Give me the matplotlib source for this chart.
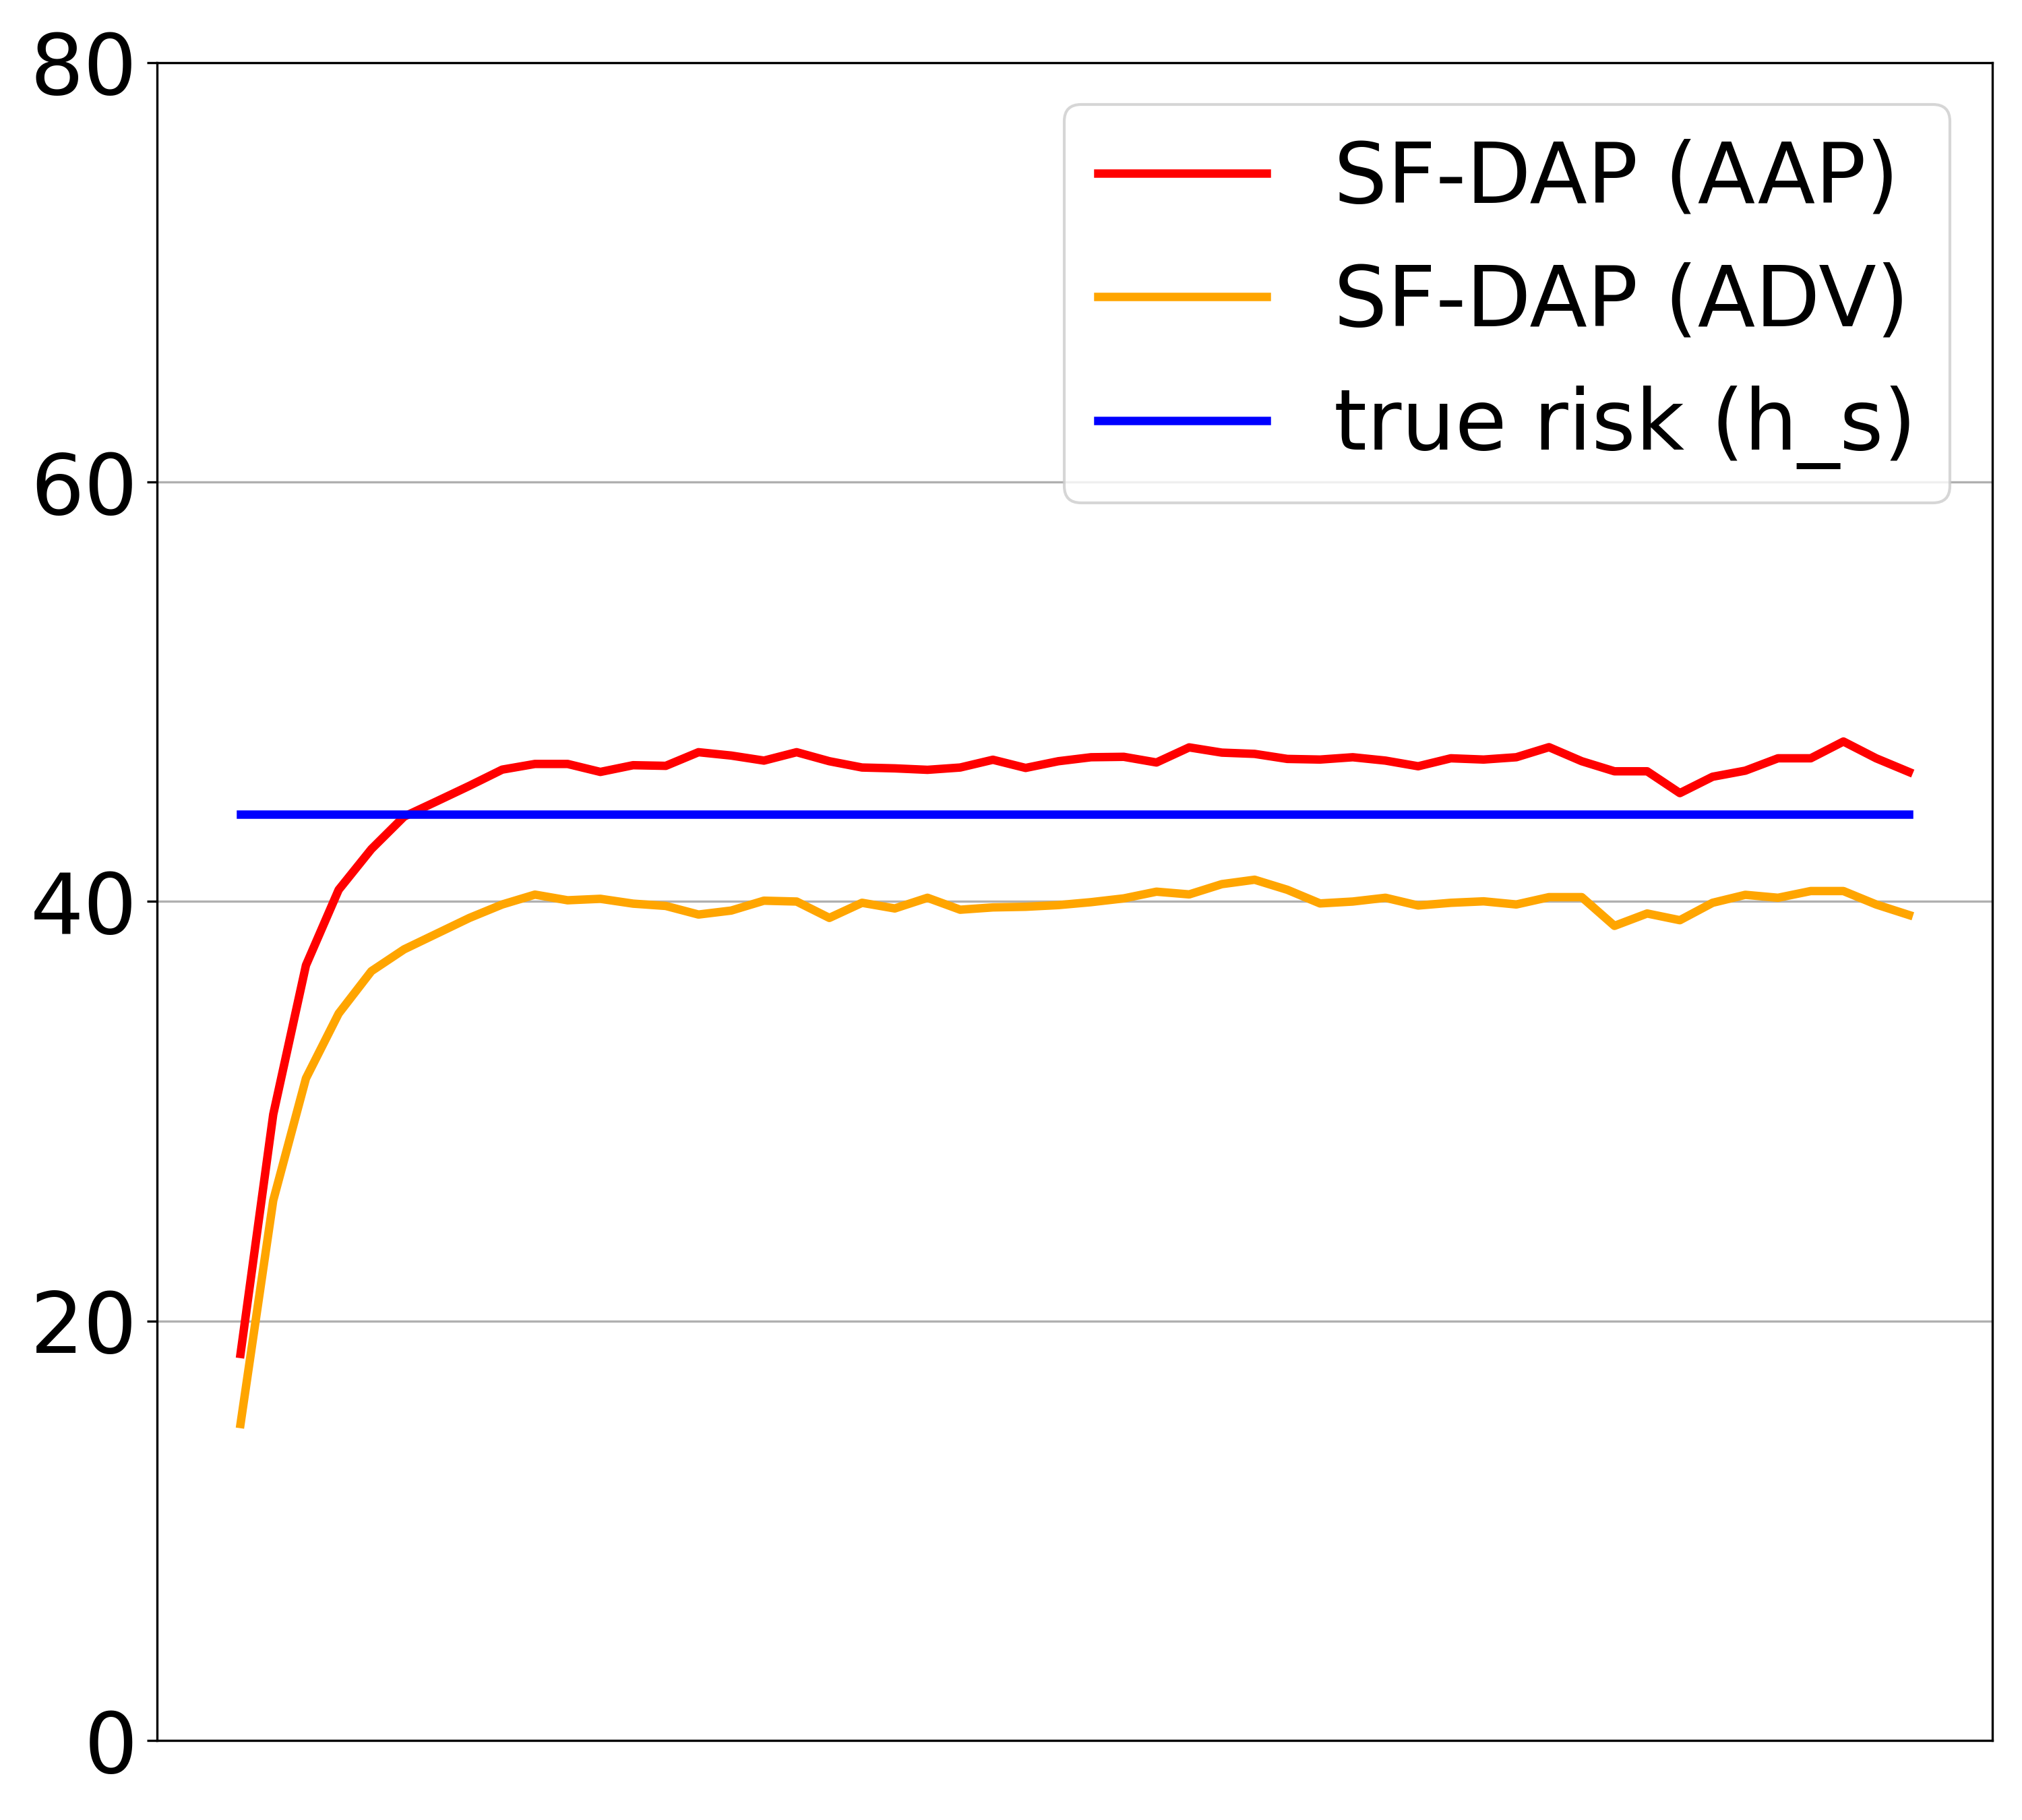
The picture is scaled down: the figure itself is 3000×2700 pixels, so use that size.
import numpy as np
import matplotlib
matplotlib.use("Agg")
import matplotlib.pyplot as plt

plt.rcParams['font.size'] = 30

# values, one per epoch
aap = [18.43, 29.85, 36.96, 40.56, 42.50, 44.05, 44.78, 45.52, 46.29, 46.56,
       46.56, 46.18, 46.50, 46.47, 47.12, 46.96, 46.72, 47.12, 46.69, 46.39,
       46.35, 46.28, 46.39, 46.76, 46.37, 46.69, 46.88, 46.90, 46.63, 47.35,
       47.10, 47.04, 46.80, 46.77, 46.88, 46.72, 46.45, 46.83, 46.77, 46.88,
       47.36, 46.69, 46.21, 46.21, 45.17, 45.95, 46.24, 46.83, 46.83, 47.63,
       46.83, 46.18]
adv = [15.09, 25.75, 31.57, 34.66, 36.68, 37.72, 38.47, 39.22, 39.86, 40.33,
       40.06, 40.13, 39.90, 39.79, 39.38, 39.57, 40.04, 40.00, 39.22, 39.94,
       39.67, 40.18, 39.61, 39.72, 39.75, 39.83, 39.97, 40.15, 40.47, 40.34,
       40.83, 41.04, 40.56, 39.91, 40.00, 40.18, 39.81, 39.94, 40.01, 39.86,
       40.21, 40.21, 38.84, 39.43, 39.11, 39.94, 40.32, 40.18, 40.50, 40.50,
       39.86, 39.36]
true_risk = 44.15
labels = ['SF-DAP (AAP)', 'SF-DAP (ADV)', 'true risk (h_s)']
yticks = [0, 20, 40, 60, 80]

x = np.arange(len(aap))

fig = plt.figure(figsize=(10, 9), dpi=300)
ax = fig.add_axes([0.0777, 0.0437, 0.9076, 0.9219])

ax.plot(x, aap, color='red', linewidth=3, label=labels[0])
ax.plot(x, adv, color='orange', linewidth=3, label=labels[1])
ax.plot(x, [true_risk] * len(x), color='blue', linewidth=3, label=labels[2])

ax.set_ylim(0, 80)
ax.set_yticks(yticks)
ax.set_xticks([])
ax.grid(axis='y')
ax.legend(loc='upper right')

fig.savefig('out.png', dpi=300)
